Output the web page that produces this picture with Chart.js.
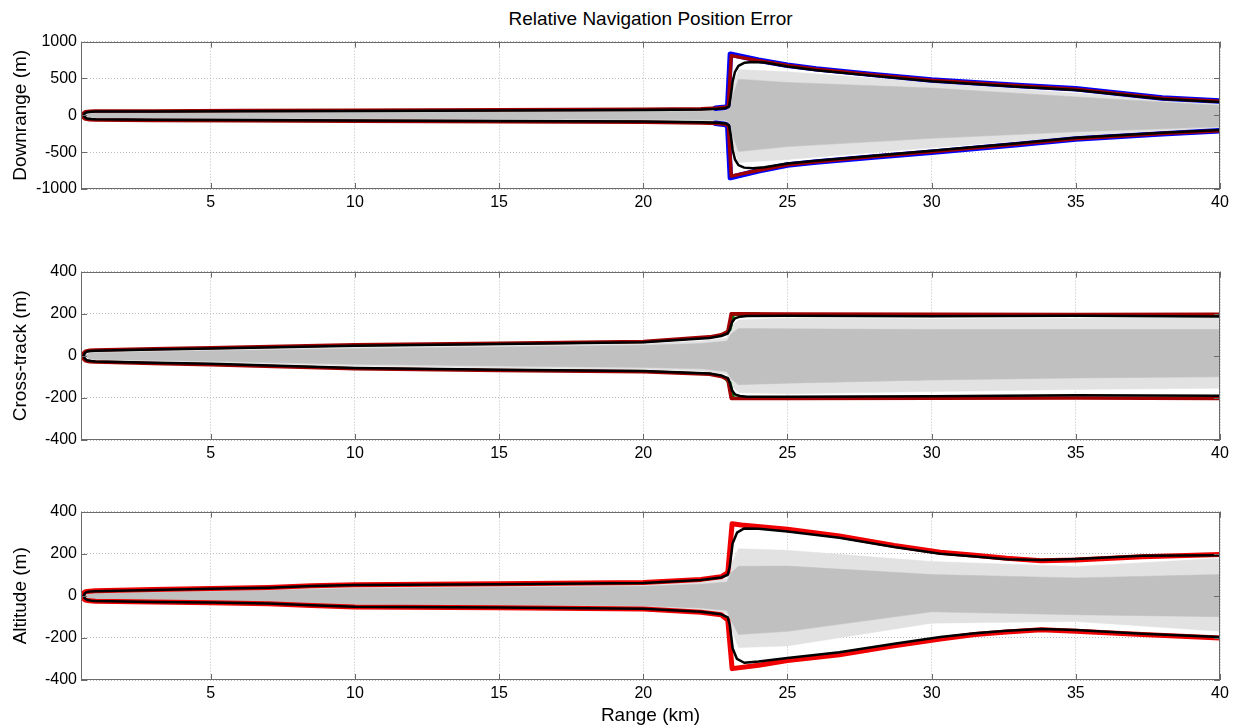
<!DOCTYPE html>
<html>
<head>
<meta charset="utf-8">
<title>Relative Navigation Position Error</title>
<script src="https://cdn.jsdelivr.net/npm/chart.js@4.4.1/dist/chart.umd.min.js"></script>
<style>
  body { margin: 0; background: #fff; }
  #wrap { position: relative; width: 1243px; height: 728px; background: #fff; overflow: hidden; }
  #wrap canvas { position: absolute; left: 0; }
  #title { position: absolute; left: 81px; width: 1139px; top: 8px; text-align: center;
           font: 19px "Liberation Sans", Arial, sans-serif; color: #000; }
</style>
</head>
<body>
<div id="wrap">
  <div id="title">Relative Navigation Position Error</div>
  <canvas id="downrange" width="1243" height="200" style="top:28px"></canvas>
  <canvas id="crosstrack" width="1243" height="221" style="top:258px"></canvas>
  <canvas id="altitude" width="1243" height="230" style="top:498px"></canvas>
</div>
<script>
// axis ticks
const rangeTicks = [5, 10, 15, 20, 25, 30, 35, 40];
const downTicks = [-1000, -500, 0, 500, 1000];
const crossTicks = [-400, -200, 0, 200, 400];
const altTicks = [-400, -200, 0, 200, 400];

// ---- Downrange (m) vs range (km) ----
const downRedUp = [[0.56,0],[0.58,30],[0.65,48],[0.8,56],[1,58],[3,60],[6,64],[10,70],[15,74],[20,82],[22,90],[22.6,98],[22.85,108],[22.95,125],[23.05,810],[24,740],[25,675],[26,625],[28,548],[30,475],[33,400],[35,355],[38,230],[40,192]];
const downRedLo = [[0.56,0],[0.58,-30],[0.65,-50],[0.8,-60],[1,-64],[3,-70],[6,-75],[10,-80],[15,-86],[20,-95],[22,-104],[22.6,-112],[22.85,-122],[22.95,-145],[23.05,-825],[24,-745],[25,-670],[26,-630],[28,-560],[30,-495],[33,-390],[35,-318],[38,-248],[40,-208]];
const downBlackUp = [[0.6,0],[0.63,25],[0.7,40],[0.85,47],[1,50],[3,52],[6,55],[10,60],[15,64],[20,72],[22,80],[22.6,88],[22.85,96],[22.97,120],[23.03,250],[23.1,460],[23.18,590],[23.3,670],[23.5,712],[23.8,724],[24.2,715],[25,662],[26,612],[28,535],[30,462],[33,388],[35,343],[38,220],[40,182]];
const downBlackLo = [[0.6,0],[0.63,-25],[0.7,-42],[0.85,-50],[1,-54],[3,-60],[6,-65],[10,-70],[15,-76],[20,-85],[22,-94],[22.6,-102],[22.85,-110],[22.97,-135],[23.03,-260],[23.1,-470],[23.18,-600],[23.3,-675],[23.5,-710],[23.8,-718],[24.2,-705],[25,-655],[26,-618],[28,-548],[30,-482],[33,-378],[35,-306],[38,-238],[40,-198]];
const downBlueUp = [[22.5,95],[22.85,110],[22.93,130],[23.02,830],[24,748],[25,680],[26,630],[28,552],[30,480],[33,405],[35,360],[38,234],[40,195]];
const downBlueLo = [[22.5,-108],[22.85,-125],[22.93,-150],[23.02,-845],[24,-752],[25,-675],[26,-635],[28,-565],[30,-500],[33,-395],[35,-322],[38,-252],[40,-211]];
const downGrayX = [0.62, 0.8, 1, 5, 10, 15, 20, 22, 22.9, 23.05, 23.3, 25, 30, 35, 40];
const downLightUp = [0, 35, 42, 45, 50, 54, 62, 70, 82, 300, 620, 590, 445, 300, 165];
const downLightLo = [0, -38, -48, -55, -60, -66, -75, -84, -96, -320, -640, -600, -440, -290, -190];
const downCoreUp = [0, 25, 32, 36, 40, 44, 50, 55, 62, 200, 490, 446, 370, 250, 134];
const downCoreLo = [0, -28, -36, -42, -46, -50, -56, -62, -70, -220, -492, -425, -313, -224, -157];

// ---- Cross-track (m) ----
const crossRedUp = [[0.56,0],[0.58,12],[0.65,22],[0.8,26],[1,27],[3,33],[5,38],[10,52],[15,60],[20,68],[22.3,90],[22.7,100],[22.93,115],[23.05,200],[25,199],[30,197],[35,196],[40,197]];
const crossRedLo = [[0.56,0],[0.58,-14],[0.65,-24],[0.8,-28],[1,-30],[3,-36],[5,-42],[10,-62],[15,-70],[20,-76],[22.3,-88],[22.7,-98],[22.93,-112],[23.05,-203],[25,-203],[30,-202],[35,-201],[40,-203]];
const crossBlackUp = [[0.6,0],[0.63,12],[0.7,20],[0.85,23],[1,24],[3,30],[5,35],[10,48],[15,56],[20,64],[22.3,85],[22.7,94],[22.93,106],[23.0,125],[23.08,160],[23.18,178],[23.35,186],[23.6,189],[25,190],[30,188],[35,190],[40,187]];
const crossBlackLo = [[0.6,0],[0.63,-12],[0.7,-21],[0.85,-25],[1,-27],[3,-33],[5,-38],[10,-58],[15,-66],[20,-72],[22.3,-84],[22.7,-93],[22.93,-106],[23.0,-128],[23.08,-165],[23.18,-183],[23.35,-191],[23.6,-194],[25,-194],[30,-192],[35,-188],[40,-190]];
const crossGreenUp = [[22.85,108],[23.0,125],[23.12,196],[23.4,198],[24,198]];
const crossGreenLo = [[22.85,-108],[23.0,-128],[23.12,-200],[23.4,-202],[24,-202]];
const crossGrayX = [0.62, 0.8, 1, 5, 10, 15, 20, 22, 22.9, 23.05, 23.3, 25, 30, 35, 40];
const crossLightUp = [0, 17, 20, 30, 42, 50, 58, 70, 85, 140, 170, 180, 175, 178, 179];
const crossLightLo = [0, -19, -22, -32, -48, -58, -65, -72, -88, -140, -175, -180, -170, -160, -154];
const crossCoreUp = [0, 12, 15, 24, 34, 42, 50, 58, 70, 105, 130, 128, 125, 125, 125];
const crossCoreLo = [0, -14, -17, -26, -40, -48, -55, -62, -75, -110, -137, -130, -115, -105, -100];

// ---- Altitude (m) ----
const altRedUp = [[0.56,0],[0.58,12],[0.65,19],[0.8,22],[1,24],[3,30],[5,35],[7,40],[8.5,48],[10,53],[15,57],[20,63],[22,78],[22.7,90],[22.93,110],[23.08,342],[23.4,336],[25,316],[26.8,284],[28.7,239],[30.3,207],[31.5,193],[32.6,178],[33.8,167],[35,170],[37.3,186],[40,196]];
const altRedLo = [[0.56,0],[0.58,-12],[0.65,-20],[0.8,-24],[1,-26],[3,-30],[5,-33],[7,-38],[8.5,-46],[10,-53],[15,-57],[20,-63],[22,-78],[22.7,-90],[22.93,-115],[23.08,-346],[24,-330],[25,-307],[26.8,-280],[28.7,-238],[30.3,-205],[31.5,-184],[32.6,-172],[33.8,-161],[35,-168],[37.3,-184],[40,-200]];
const altBlackUp = [[0.6,0],[0.63,12],[0.7,18],[0.85,21],[1,22],[3,28],[5,33],[7,38],[8.5,46],[10,51],[15,55],[20,61],[22,75],[22.7,87],[22.93,100],[23.0,140],[23.1,250],[23.25,300],[23.5,320],[24,318],[25,306],[26.8,276],[28.7,232],[30.3,200],[31.5,187],[32.6,174],[33.8,170],[35,175],[37.3,190],[40,193]];
const altBlackLo = [[0.6,0],[0.63,-12],[0.7,-19],[0.85,-23],[1,-25],[3,-29],[5,-32],[7,-37],[8.5,-45],[10,-52],[15,-56],[20,-62],[22,-76],[22.7,-88],[22.93,-103],[23.0,-140],[23.1,-250],[23.25,-300],[23.5,-318],[24,-312],[25,-295],[26.8,-268],[28.7,-228],[30.3,-196],[31.5,-178],[32.6,-166],[33.8,-158],[35,-163],[37.3,-180],[40,-196]];
const altGrayX = [0.62, 0.8, 1, 5, 10, 15, 20, 22, 22.9, 23.05, 23.3, 25, 30, 35, 40];
const altLightUp = [0, 14, 17, 25, 42, 47, 52, 65, 80, 150, 224, 216, 163, 139, 178];
const altLightLo = [0, -16, -20, -28, -46, -50, -55, -68, -85, -160, -246, -238, -130, -122, -169];
const altCoreUp = [0, 10, 13, 20, 35, 40, 45, 55, 65, 110, 140, 141, 101, 85, 101];
const altCoreLo = [0, -12, -15, -24, -40, -45, -48, -58, -70, -120, -184, -169, -76, -90, -99];

const FONT = '"Liberation Sans", Arial, Helvetica, sans-serif';
const CORE_GRAY = '#c0c0c0';
const LIGHT_GRAY = '#e2e2e2';

function pts(pairs) {
  return pairs.map(p => ({ x: p[0], y: p[1] }));
}

function band(xs, ys) {
  return xs.map((x, i) => ({ x: x, y: ys[i] }));
}

function line(data, color, width) {
  return {
    data: data, borderColor: color, borderWidth: width, pointRadius: 0,
    fill: false, tension: 0, borderJoinStyle: 'round', borderCapStyle: 'round'
  };
}

function area(data, color, fill) {
  return {
    data: data, borderColor: color, backgroundColor: color, borderWidth: 0.5,
    pointRadius: 0, fill: fill, tension: 0
  };
}

// gray bands go last so they sit under the envelope lines
function grayBands(xs, lightUp, lightLo, coreUp, coreLo) {
  return [
    area(band(xs, coreUp), CORE_GRAY, '+1'),
    area(band(xs, coreLo), CORE_GRAY, false),
    area(band(xs, lightUp), LIGHT_GRAY, '+1'),
    area(band(xs, lightLo), LIGHT_GRAY, false)
  ];
}

// axes box with inward tick marks
const boxPlugin = {
  id: 'box',
  afterDraw(chart) {
    const ctx = chart.ctx;
    const a = chart.chartArea;
    const x = chart.scales.x;
    const y = chart.scales.y;
    ctx.save();
    ctx.strokeStyle = '#6a6a6a';
    ctx.lineWidth = 1;
    ctx.strokeRect(Math.round(a.left) + 0.5, Math.round(a.top) + 0.5,
                   Math.round(a.width) - 1, Math.round(a.height) - 1);
    ctx.beginPath();
    x.ticks.forEach(t => {
      const px = Math.round(x.getPixelForValue(t.value)) + 0.5;
      ctx.moveTo(px, a.bottom); ctx.lineTo(px, a.bottom - 6);
      ctx.moveTo(px, a.top); ctx.lineTo(px, a.top + 6);
    });
    y.ticks.forEach(t => {
      const py = Math.round(y.getPixelForValue(t.value)) + 0.5;
      ctx.moveTo(a.left, py); ctx.lineTo(a.left + 6, py);
      ctx.moveTo(a.right, py); ctx.lineTo(a.right - 6, py);
    });
    ctx.stroke();
    ctx.restore();
  }
};

function makePanel(id, yTitle, yTicks, datasets, xHeight, xTitle) {
  return new Chart(document.getElementById(id), {
    type: 'line',
    data: { datasets: datasets },
    options: {
      responsive: false,
      animation: false,
      events: [],
      layout: { padding: { top: 10, right: 23, left: 0, bottom: 0 } },
      plugins: { legend: { display: false }, tooltip: { enabled: false } },
      scales: {
        x: {
          type: 'linear', min: 0.5, max: 40,
          afterBuildTicks: s => { s.ticks = rangeTicks.map(v => ({ value: v })); },
          afterFit: s => { s.height = xHeight; },
          ticks: { color: '#000', padding: 4, maxRotation: 0, autoSkip: false,
                   font: { family: FONT, size: 16 }, callback: v => String(v) },
          grid: { color: '#bdbdbd', lineWidth: 1, drawTicks: false },
          border: { display: false, dash: [1, 2] },
          title: xTitle
            ? { display: true, text: xTitle, color: '#000', font: { family: FONT, size: 19 }, padding: { top: 0, bottom: 1 } }
            : { display: false }
        },
        y: {
          type: 'linear', min: yTicks[0], max: yTicks[yTicks.length - 1],
          afterBuildTicks: s => { s.ticks = yTicks.map(v => ({ value: v })); },
          afterFit: s => { s.width = 81; },
          ticks: { color: '#000', padding: 4, font: { family: FONT, size: 16 }, callback: v => String(v) },
          grid: { color: '#bdbdbd', lineWidth: 1, drawTicks: false },
          border: { display: false, dash: [1, 2] },
          title: { display: true, text: yTitle, color: '#000', font: { family: FONT, size: 19 }, padding: { top: 9, bottom: 0 } }
        }
      }
    },
    plugins: [boxPlugin]
  });
}

makePanel('downrange', 'Downrange (m)', downTicks, [
  line(pts(downBlackUp), '#000000', 2.5),
  line(pts(downBlackLo), '#000000', 2.5),
  line(pts(downRedUp), '#a00000', 3.5),
  line(pts(downRedLo), '#a00000', 3.5),
  line(pts(downBlueUp), '#0000ff', 5.5),
  line(pts(downBlueLo), '#0000ff', 5.5)
].concat(grayBands(downGrayX, downLightUp, downLightLo, downCoreUp, downCoreLo)), 39);

makePanel('crosstrack', 'Cross-track (m)', crossTicks, [
  line(pts(crossBlackUp), '#000000', 2.5),
  line(pts(crossBlackLo), '#000000', 2.5),
  line(pts(crossRedUp), '#a00000', 3.5),
  line(pts(crossRedLo), '#a00000', 3.5),
  line(pts(crossGreenUp), '#008000', 3.5),
  line(pts(crossGreenLo), '#008000', 3.5)
].concat(grayBands(crossGrayX, crossLightUp, crossLightLo, crossCoreUp, crossCoreLo)), 39);

makePanel('altitude', 'Altitude (m)', altTicks, [
  line(pts(altBlackUp), '#000000', 2.5),
  line(pts(altBlackLo), '#000000', 2.5),
  line(pts(altRedUp), '#f00000', 5),
  line(pts(altRedLo), '#f00000', 5)
].concat(grayBands(altGrayX, altLightUp, altLightLo, altCoreUp, altCoreLo)), 48, 'Range (km)');
</script>
</body>
</html>
